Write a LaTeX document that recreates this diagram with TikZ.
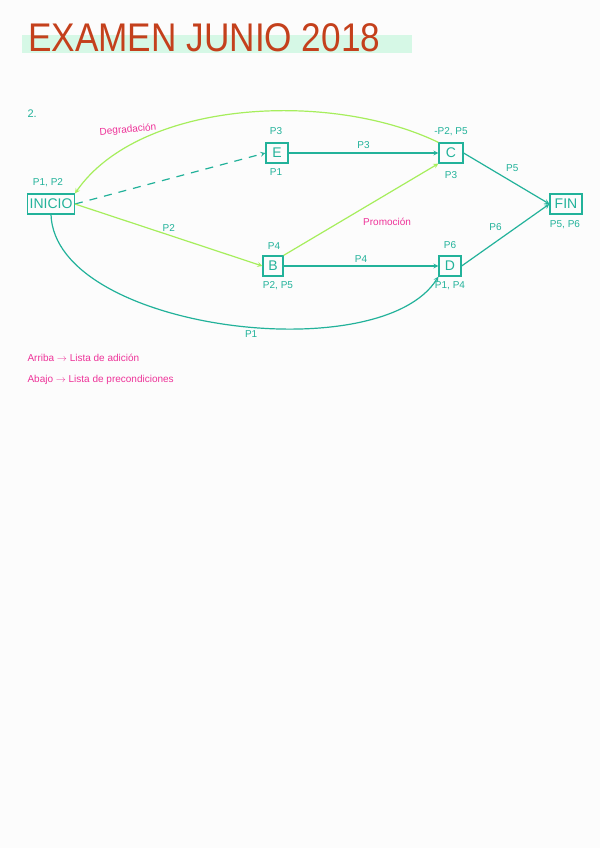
\documentclass[tikz,border=0pt]{standalone}
\usepackage{fontspec}
\setmainfont{Liberation Sans}
\begin{document}
\begin{tikzpicture}[x=1pt,y=-1pt,
  every node/.style={font=\fontsize{10}{11}\selectfont},
  box/.style={draw=teal0,line width=1.2pt,text=teal0,inner sep=2pt,minimum height=20pt,font=\fontsize{14}{14}\selectfont},
  lab/.style={text=teal0,font=\fontsize{10}{11}\selectfont},
  tl/.style={draw=teal0,line width=1.2pt,->,>=stealth},
  gl/.style={draw=lime0,line width=1.2pt,->,>=stealth},
  pk/.style={text=pink0,font=\fontsize{10}{11}\selectfont}]
\definecolor{teal0}{HTML}{22B29A}
\definecolor{lime0}{HTML}{A6EE5C}
\definecolor{pink0}{HTML}{EE3399}
\definecolor{title0}{HTML}{C4401C}
\definecolor{bg0}{HTML}{FCFCFC}
\definecolor{hl0}{HTML}{D6F8E6}
\useasboundingbox[fill=bg0] (0,0) rectangle (600,848);
\fill[hl0] (22,35) rectangle (412,53);
\node[text=title0,font=\fontsize{40}{40}\selectfont,anchor=west,xscale=0.88,inner sep=0pt] (title) at (28,38) {EXAMEN JUNIO 2018};
\node[lab,anchor=west,font=\fontsize{11}{11}\selectfont] (num) at (24,114) {2.};
\node[box,minimum width=46pt] (ini) at (51,204) {INICIO};
\node[box,minimum width=22pt] (e) at (277,153) {E};
\node[box,minimum width=24pt] (c) at (451,153) {C};
\node[box,minimum width=20pt] (b) at (273,266) {B};
\node[box,minimum width=22pt] (d) at (450,266) {D};
\node[box,minimum width=32pt] (fin) at (566,204) {FIN};
\node[lab] at (48,183) {P1, P2};
\node[lab] at (276,131) {P3};
\node[lab] at (276,172) {P1};
\node[lab] at (451,132) {-P2, P5};
\node[lab] at (451,175) {P3};
\node[lab] at (274,246) {P4};
\node[lab] at (278,286) {P2, P5};
\node[lab] at (450,245) {P6};
\node[lab] at (450,286) {P1, P4};
\node[lab] at (565,225) {P5, P6};
\draw[tl,dashed,dash pattern=on 8pt off 7pt] (ini.east) -- (e.west);
\draw[tl] (e) -- node[lab,above]{P3} (c);
\draw[tl] (b) -- node[lab,above]{P4} (d);
\draw[tl] (c.east) -- node[lab,above right,pos=0.45]{P5} (fin.west);
\draw[tl] (d.east) -- node[lab,above left,pos=0.5]{P6} (fin.west);
\draw[gl] (ini.east) -- node[lab,above,pos=0.5]{P2} (b.west);
\draw[gl] (b.north east) -- node[pk,pos=0.45,below right,xshift=6pt]{Promoción} (c.south west);
\draw[gl] (c.north west) .. controls (330,90) and (140,100) .. (ini.north east);
\node[pk,rotate=5] (deg) at (128,130) {Degradación};
\draw[tl] (ini.south) .. controls (55,330) and (380,370) .. node[lab,below,pos=0.55]{P1} (d.south west);
\node[pk,anchor=west] at (24,358) {Arriba $\rightarrow$ Lista de adición};
\node[pk,anchor=west] at (24,380) {Abajo $\rightarrow$ Lista de precondiciones};
\end{tikzpicture}
\end{document}
